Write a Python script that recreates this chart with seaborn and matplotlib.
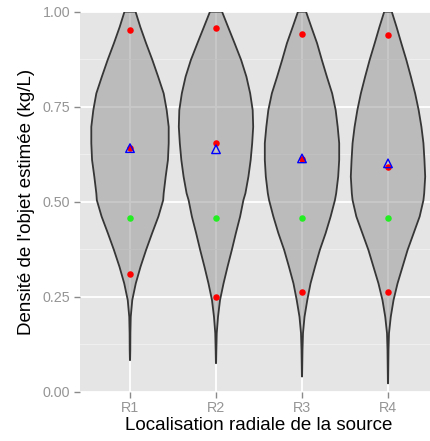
import numpy as np
import pandas as pd
import matplotlib
matplotlib.use("Agg")
import matplotlib.pyplot as plt
import seaborn as sns

# ---------------- data ----------------
categories = ["R1", "R2", "R3", "R4"]

# density profile (levels of the y axis and violin widths)
levels = [1.00, 0.96, 0.917, 0.873, 0.829, 0.785, 0.741, 0.697, 0.654, 0.610,
          0.566, 0.522, 0.504, 0.461, 0.417, 0.373, 0.329, 0.285, 0.241, 0.197,
          0.154, 0.110]
dens_r1 = [11.0, 20.5, 32.0, 44.5, 56.0, 67.0, 73.0, 77.0, 77.0, 75.5,
           71.0, 67.0, 66.0, 56.5, 44.0, 32.0, 21.0, 11.5, 4.5, 1.5,
           0.8, 0.6]
dens_r2 = [12.0, 24.0, 37.0, 50.0, 60.5, 68.0, 73.0, 74.0, 72.0, 69.0,
           64.5, 58.5, 54.5, 48.0, 39.5, 31.5, 23.0, 15.0, 8.0, 4.0,
           1.5, 0.7]
dens_r3 = [8.0, 18.5, 30.0, 39.5, 49.5, 60.0, 67.0, 71.0, 74.0, 74.0,
           72.0, 68.0, 65.5, 57.0, 47.0, 35.5, 26.0, 17.0, 10.5, 5.0,
           2.0, 1.0]
dens_r4 = [7.5, 17.0, 26.5, 36.5, 45.5, 54.0, 61.0, 66.5, 70.5, 72.5,
           74.0, 72.0, 70.5, 63.0, 51.0, 39.0, 29.0, 19.0, 11.0, 5.5,
           2.0, 1.0]
tip_values = [0.083, 0.075, 0.040, 0.022]

q_high = [0.952, 0.956, 0.941, 0.940]
q_median = [0.641, 0.654, 0.612, 0.592]
q_low = [0.310, 0.250, 0.263, 0.263]
true_value = [0.456, 0.456, 0.456, 0.456]
means = [0.641, 0.638, 0.614, 0.601]

# ---------------- style ----------------
sns.set_theme(style="darkgrid")
plt.rcParams["font.family"] = ["Liberation Sans", "DejaVu Sans"]

W, H = 430, 441
fig = plt.figure(figsize=(W / 100, H / 100), dpi=100)
ax = fig.add_axes([80 / W, (H - 391.7) / H, (W - 80) / W, 380 / H])
ax.set_facecolor("#E5E5E5")

unit = 86.0  # pixels per category step
ax.set_xlim(-50 / unit, -50 / unit + (W - 80) / unit)
ax.set_ylim(0, 1)

ax.set_yticks([0, 0.25, 0.5, 0.75, 1.0])
ax.set_yticklabels(["0.00", "0.25", "0.50", "0.75", "1.00"])
ax.set_yticks([0.125, 0.375, 0.625, 0.875], minor=True)
ax.set_xticks(range(len(categories)))
ax.set_xticklabels(categories)

ax.grid(False)
ax.grid(which="major", axis="both", color="white", linewidth=1.3)
ax.grid(which="minor", axis="y", color="#F2F2F2", linewidth=0.6)
ax.set_axisbelow(True)
for s in ax.spines.values():
    s.set_visible(False)
ax.tick_params(axis="both", which="major", length=4.5, width=1.0,
               color="#8a8a8a", labelcolor="#959595", labelsize=10.3, pad=2.5,
               bottom=True, left=True)
ax.tick_params(which="minor", length=0)

# ---------------- violins ----------------
profiles = [dens_r1, dens_r2, dens_r3, dens_r4]
dmax = max(max(p) for p in profiles)
for i, (prof, tip) in enumerate(zip(profiles, tip_values)):
    yy = np.array(levels + [tip])
    hw = np.array(prof + [0.2]) / dmax * 0.45
    xs = np.concatenate([i - hw, (i + hw)[::-1]])
    ys = np.concatenate([yy, yy[::-1]])
    ax.fill(xs, ys, facecolor="#939393", alpha=0.5, edgecolor="none", zorder=2)
    ax.fill(xs, ys, facecolor="none", edgecolor="#363636", linewidth=1.3,
            zorder=3, joinstyle="round")

# ---------------- points ----------------
pos = np.arange(len(categories))
df_q = pd.DataFrame({
    "x": np.concatenate([pos, pos, pos]),
    "y": q_high + q_median + q_low,
})
df_t = pd.DataFrame({"x": pos, "y": true_value})
df_m = pd.DataFrame({"x": pos, "y": means})

sns.scatterplot(data=df_q, x="x", y="y", ax=ax, color="#FF0000", s=22,
                linewidth=0, zorder=4)
sns.scatterplot(data=df_t, x="x", y="y", ax=ax, color="#22EE22", s=22,
                linewidth=0, zorder=4)
sns.scatterplot(data=df_m, x="x", y="y", ax=ax, marker="^", s=38,
                facecolor="none", edgecolor="#0000FF", linewidth=1.0, zorder=5)

ax.set_xlabel("")
ax.set_ylabel("")
fig.text(259 / W, 1 - 425 / H, "Localisation radiale de la source",
         ha="center", va="center", fontsize=13.5, color="black")
fig.text(27 / W, 1 - 201.5 / H, "Densité de l'objet estimée (kg/L)",
         ha="center", va="center", rotation=90, fontsize=13.5, color="black")

fig.savefig("out.png", dpi=100)
